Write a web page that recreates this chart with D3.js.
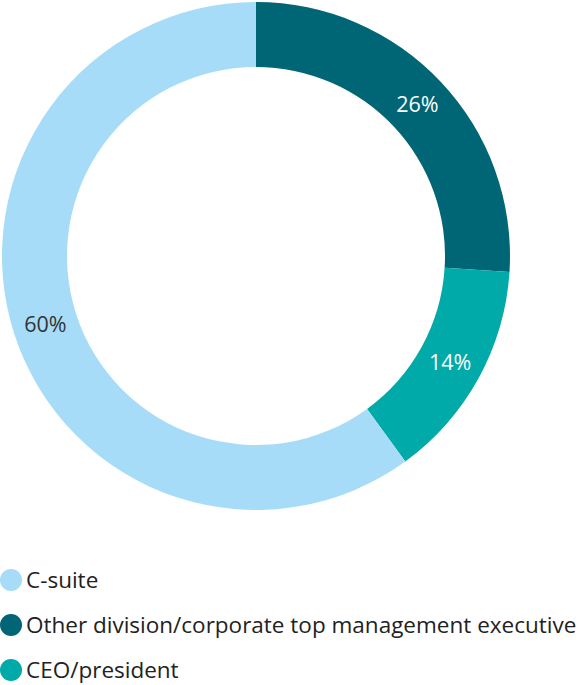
<!DOCTYPE html>
<html>
<head>
<meta charset="utf-8">
<script src="https://cdn.jsdelivr.net/npm/d3@7"></script>
<style>
  html, body { margin: 0; padding: 0; background: #fff; }
  svg { display: block; font-family: "Open Sans", sans-serif; }
</style>
</head>
<body>
<svg id="chart" width="579" height="685"></svg>
<script>
// Slices in drawing order, clockwise from 12 o'clock
const sliceNames = ["Other division/corporate top management executive", "CEO/president", "C-suite"];
const sliceValues = [26, 14, 60];
const sliceColors = ["#006675", "#00aaa8", "#a6dcf8"];
const labelColors = ["#ffffff", "#ffffff", "#333333"];

// Legend order
const legendNames = ["C-suite", "Other division/corporate top management executive", "CEO/president"];

const svg = d3.select("#chart");
const cx = 256, cy = 256, outerR = 254, innerR = 189;

const pie = d3.pie().sort(null).value(d => d.value);
const arc = d3.arc().innerRadius(innerR).outerRadius(outerR);

const data = sliceNames.map((n, i) => ({ name: n, value: sliceValues[i], color: sliceColors[i], label: labelColors[i] }));
const arcs = pie(data);

const g = svg.append("g").attr("transform", `translate(${cx},${cy})`);

g.selectAll("path")
  .data(arcs)
  .join("path")
  .attr("d", arc)
  .attr("fill", d => d.data.color);

g.selectAll("text")
  .data(arcs)
  .join("text")
  .attr("transform", d => `translate(${arc.centroid(d)})`)
  .attr("text-anchor", "middle")
  .attr("dy", "0.35em")
  .attr("font-size", 21.5)
  .attr("fill", d => d.data.label)
  .text(d => d.data.value + "%");

const colorOf = d3.scaleOrdinal().domain(sliceNames).range(sliceColors);
const legendY = d3.scalePoint().domain(legendNames).range([580, 670]);

const lg = svg.append("g").selectAll("g")
  .data(legendNames)
  .join("g")
  .attr("transform", d => `translate(0,${legendY(d)})`);

lg.append("circle")
  .attr("cx", 11)
  .attr("cy", 0)
  .attr("r", 11)
  .attr("fill", d => colorOf(d));

lg.append("text")
  .attr("x", 26)
  .attr("dy", "0.35em")
  .attr("font-size", 22.5)
  .attr("fill", "#222")
  .text(d => d);
</script>
</body>
</html>
